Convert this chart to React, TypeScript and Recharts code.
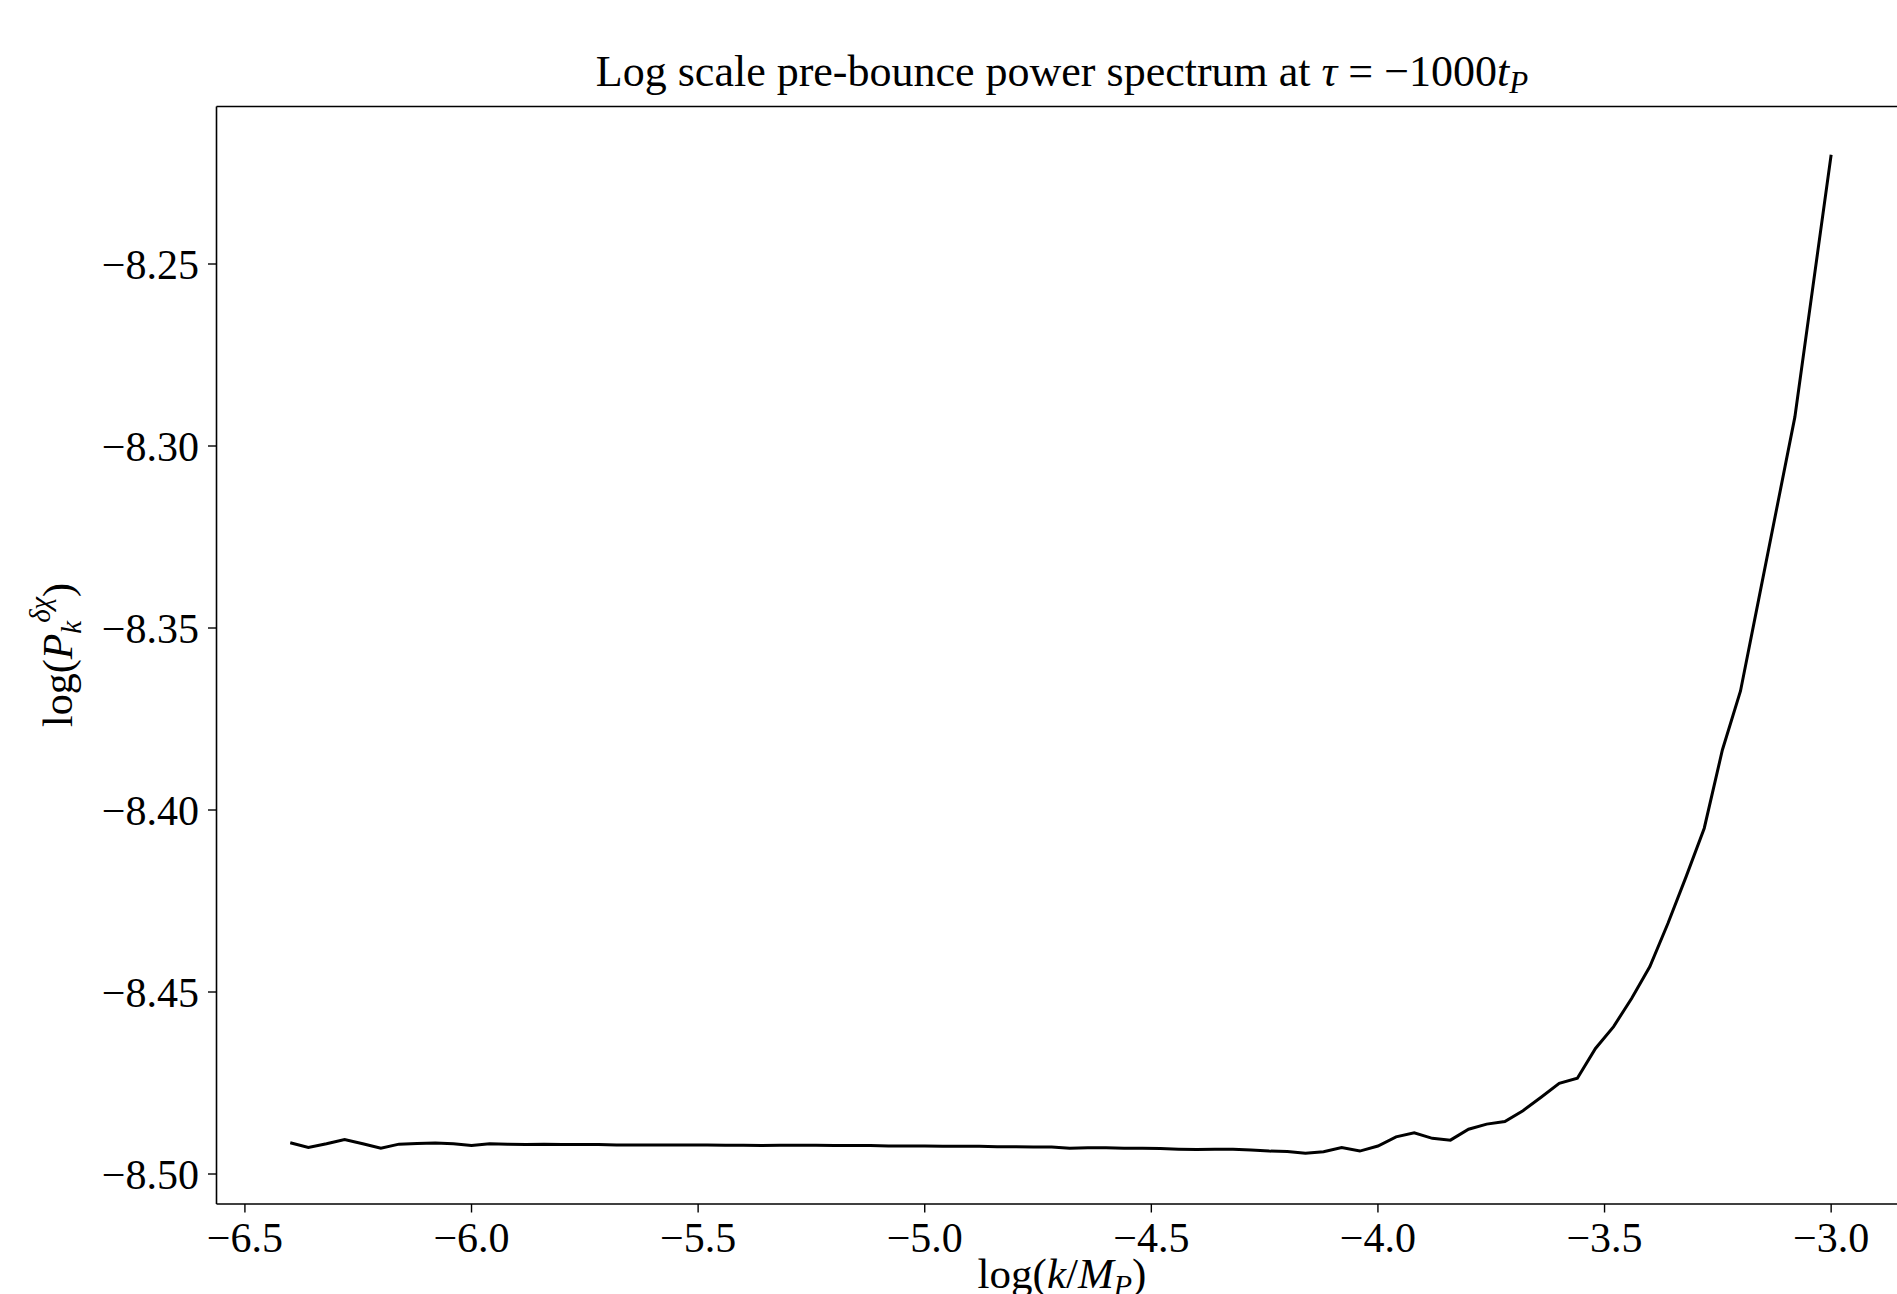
import { LineChart, Line, XAxis, YAxis, Label, ReferenceLine } from "recharts";

// log(k/M_P) sample points
const logK = [
  -6.4, -6.36, -6.32, -6.28, -6.24, -6.2, -6.16, -6.12, -6.08, -6.04,
  -6.0, -5.96, -5.92, -5.88, -5.84, -5.8, -5.76, -5.72, -5.68, -5.64,
  -5.6, -5.56, -5.52, -5.48, -5.44, -5.4, -5.36, -5.32, -5.28, -5.24,
  -5.2, -5.16, -5.12, -5.08, -5.04, -5.0, -4.96, -4.92, -4.88, -4.84,
  -4.8, -4.76, -4.72, -4.68, -4.64, -4.6, -4.56, -4.52, -4.48, -4.44,
  -4.4, -4.36, -4.32, -4.28, -4.24, -4.2, -4.16, -4.12, -4.08, -4.04,
  -4.0, -3.96, -3.92, -3.88, -3.84, -3.8, -3.76, -3.72, -3.68, -3.64,
  -3.6, -3.56, -3.52, -3.48, -3.44, -3.4, -3.36, -3.32, -3.28, -3.24,
  -3.2, -3.16, -3.12, -3.08, -3.04, -3.0,
];

// log of the power spectrum
const logP = [
  -8.4914, -8.4927, -8.4917, -8.4905, -8.4917, -8.4929, -8.4918, -8.4916, -8.4915, -8.4917,
  -8.4922, -8.4917, -8.4918, -8.4919, -8.4918, -8.4919, -8.4919, -8.4919, -8.492, -8.492,
  -8.492, -8.492, -8.492, -8.492, -8.4921, -8.4921, -8.4922, -8.4921, -8.4921, -8.4921,
  -8.4922, -8.4922, -8.4922, -8.4923, -8.4923, -8.4923, -8.4924, -8.4924, -8.4924, -8.4925,
  -8.4925, -8.4926, -8.4926, -8.4929, -8.4928, -8.4928, -8.4929, -8.4929, -8.493, -8.4932,
  -8.4933, -8.4932, -8.4932, -8.4934, -8.4937, -8.4938, -8.4943, -8.4939, -8.4927, -8.4937,
  -8.4923, -8.4898, -8.4887, -8.4902, -8.4907, -8.4877, -8.4863, -8.4856, -8.4826, -8.4789,
  -8.4751, -8.4737, -8.4655, -8.4595, -8.4517, -8.443, -8.4311, -8.4183, -8.405, -8.3835,
  -8.3673, -8.3422, -8.3171, -8.292, -8.256, -8.22,
];

const xTicks = [-6.5, -6.0, -5.5, -5.0, -4.5, -4.0, -3.5, -3.0];
const yTicks = [-8.5, -8.45, -8.4, -8.35, -8.3, -8.25];

const data = logK.map((x, i) => ({ x, y: logP[i] }));

const FONT = "'Liberation Serif', 'DejaVu Serif', serif";

const fmt = (d: number) => (v: number) =>
  (v < 0 ? "\u2212" : "") + Math.abs(v).toFixed(d);

const W = 1897;
const H = 1294;
const X_DOMAIN = [-6.5627, -2.8547];
const Y_DOMAIN = [-8.50824, -8.20673];

const titleText = () => (
  <text x={1062} y={86} textAnchor="middle" fontFamily={FONT} fontSize={44} fill="#000">
    Log scale pre-bounce power spectrum at <tspan fontStyle="italic">τ</tspan> = −1000
    <tspan fontStyle="italic">t</tspan>
    <tspan fontStyle="italic" fontSize={31} dy={7}>P</tspan>
  </text>
);

const xLabelText = () => (
  <text x={1062} y={1288} textAnchor="middle" fontFamily={FONT} fontSize={43} fill="#000">
    log(<tspan fontStyle="italic">k</tspan>/<tspan fontStyle="italic">M</tspan>
    <tspan fontStyle="italic" fontSize={30} dy={7}>P</tspan>
    <tspan dy={-7}>)</tspan>
  </text>
);

const yLabelText = () => (
  <text
    transform="translate(72,655) rotate(-90)"
    textAnchor="middle"
    fontFamily={FONT}
    fontSize={42}
    fill="#000"
  >
    log(<tspan fontStyle="italic">P</tspan>
    <tspan fontStyle="italic" fontSize={29} dy={9}>k</tspan>
    <tspan fontStyle="italic" fontSize={29} dy={-31} dx={-2}>δχ</tspan>
    <tspan dy={22}>)</tspan>
  </text>
);

export default function App() {
  return (
    <div
      style={{
        position: "absolute",
        left: 0,
        top: 0,
        width: W,
        height: H,
        overflow: "hidden",
        background: "#fff",
      }}
    >
      <LineChart
        width={W}
        height={H}
        data={data}
        margin={{ top: 106.5, right: 0, bottom: 0, left: 0 }}
      >
        <XAxis
          dataKey="x"
          type="number"
          domain={X_DOMAIN}
          allowDataOverflow
          ticks={xTicks}
          tickFormatter={fmt(1)}
          height={90}
          tickSize={8.5}
          tickMargin={10}
          axisLine={{ stroke: "#000", strokeWidth: 1.6 }}
          tickLine={{ stroke: "#000", strokeWidth: 1.4 }}
          tick={{ fill: "#000", fontSize: 42, fontFamily: FONT }}
          interval={0}
        >
          <Label content={xLabelText} />
        </XAxis>
        <YAxis
          type="number"
          domain={Y_DOMAIN}
          allowDataOverflow
          ticks={yTicks}
          tickFormatter={fmt(2)}
          width={216.5}
          tickSize={8.5}
          tickMargin={9}
          axisLine={{ stroke: "#000", strokeWidth: 1.6 }}
          tickLine={{ stroke: "#000", strokeWidth: 1.4 }}
          tick={{ fill: "#000", fontSize: 42, fontFamily: FONT }}
          interval={0}
        >
          <Label content={yLabelText} />
        </YAxis>
        <ReferenceLine y={Y_DOMAIN[1]} stroke="#000" strokeWidth={1.6}>
          <Label content={titleText} />
        </ReferenceLine>
        <Line
          type="linear"
          dataKey="y"
          stroke="#000"
          strokeWidth={3}
          dot={false}
          isAnimationActive={false}
        />
      </LineChart>
    </div>
  );
}
